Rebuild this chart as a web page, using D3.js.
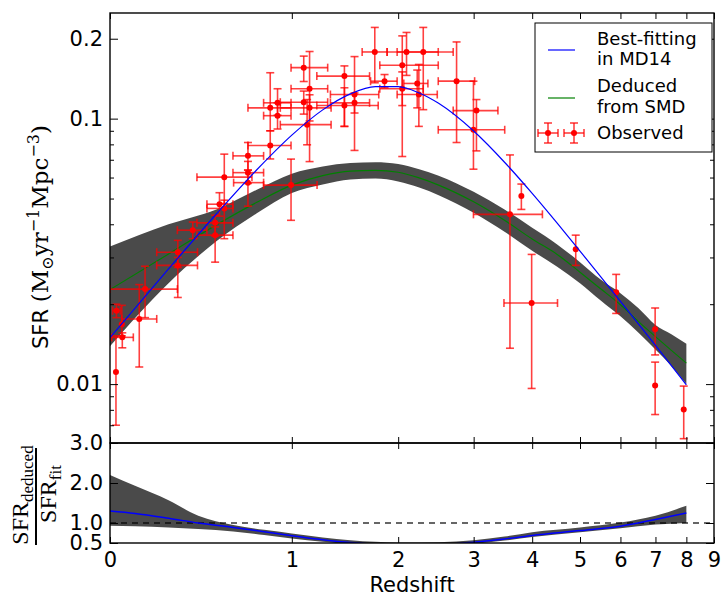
<!DOCTYPE html>
<html><head><meta charset="utf-8">
<script src="https://cdn.jsdelivr.net/npm/d3@7"></script>
<style>body{margin:0;background:#fff}svg{display:block}</style>
</head><body>
<svg id="c" width="722" height="597"></svg>
<script>
// ---------- data ----------
const curveZ   = [0, 0.25, 0.5, 0.75, 1, 1.25, 1.5, 1.75, 2, 2.25, 2.5, 3, 3.5, 4, 4.5, 5, 5.5, 6, 6.5, 7, 7.5, 8];
const bestFit  = [0.01496, 0.02716, 0.04373, 0.06417, 0.08666, 0.1079, 0.1240, 0.1321, 0.1319, 0.1249, 0.1142, 0.0898, 0.0685, 0.0523, 0.0404, 0.0317, 0.0253, 0.0205, 0.01682, 0.01398, 0.01173, 0.00994];
const deduced  = [0.0227, 0.0309, 0.0398, 0.0484, 0.0562, 0.0610, 0.0634, 0.0638, 0.0628, 0.0598, 0.0562, 0.0486, 0.0414, 0.0352, 0.0308, 0.0264, 0.0228, 0.0199, 0.0172, 0.0151, 0.0134, 0.0120];
const bandLo   = [0.0139, 0.0240, 0.0345, 0.0440, 0.0525, 0.0565, 0.0590, 0.0595, 0.0580, 0.0550, 0.0515, 0.0442, 0.0375, 0.0318, 0.0277, 0.0240, 0.0206, 0.0180, 0.0156, 0.0135, 0.0117, 0.0100];
const bandHi   = [0.0330, 0.0400, 0.0455, 0.0540, 0.0620, 0.0660, 0.0680, 0.0685, 0.0675, 0.0645, 0.0610, 0.0530, 0.0455, 0.0388, 0.0336, 0.0288, 0.0247, 0.0220, 0.0193, 0.0167, 0.0154, 0.0142];

const ratioZ   = [0, 0.1, 0.25, 0.4, 0.6, 0.8, 1.0, 1.25, 1.5, 1.75, 2, 2.5, 3, 3.5, 4, 5, 6, 7, 8];
const ratio    = [1.30, 1.24, 1.12, 1.00, 0.89, 0.78, 0.68, 0.58, 0.51, 0.47, 0.45, 0.46, 0.52, 0.60, 0.69, 0.81, 0.92, 1.09, 1.25];
const ratioLo  = [0.93, 0.92, 0.89, 0.85, 0.79, 0.70, 0.61, 0.53, 0.47, 0.43, 0.41, 0.42, 0.48, 0.56, 0.65, 0.77, 0.87, 0.96, 1.00];
const ratioHi  = [2.20, 1.93, 1.57, 1.18, 0.95, 0.83, 0.74, 0.64, 0.57, 0.53, 0.51, 0.52, 0.57, 0.66, 0.77, 0.89, 1.01, 1.18, 1.43];

const obsZ     = [0.023, 0.025, 0.046, 0.048, 0.118, 0.143, 0.295, 0.295, 0.371, 0.493, 0.493, 0.518, 0.546, 0.546, 0.692, 0.692, 0.692, 0.842, 0.842, 0.894, 0.894, 0.994, 1.093, 1.093, 1.12, 1.14, 1.14, 1.444, 1.444, 1.54, 1.54, 1.744, 1.848, 2.047, 2.047, 2.097, 2.226, 2.246, 2.301, 2.748, 3.043, 2.997, 3.798, 3.594, 3.99, 4.903, 5.887, 6.99, 6.99, 7.91];
const obsZlo   = [0.023, 0.010, 0.046, 0.0065, 0.046, 0.0, 0.195, 0.195, 0.293, 0.393, 0.393, 0.447, 0.447, 0.393, 0.598, 0.598, 0.602, 0.692, 0.692, 0.796, 0.796, 0.796, 0.994, 0.914, 0.914, 0.994, 0.914, 1.20, 1.20, 1.317, 1.317, 1.615, 1.70, 1.797, 1.797, 1.876, 2.065, 1.988, 1.988, 2.495, 2.70, 2.495, 3.798, 2.997, 3.49, 4.903, 5.887, 6.99, 6.99, 7.91];
const obsZhi   = [0.023, 0.040, 0.046, 0.093, 0.195, 0.293, 0.396, 0.396, 0.447, 0.598, 0.598, 0.598, 0.598, 0.718, 0.796, 0.796, 0.796, 0.994, 0.994, 0.994, 0.994, 1.202, 1.293, 1.293, 1.323, 1.293, 1.323, 1.69, 1.78, 1.786, 1.69, 1.876, 1.988, 2.495, 2.30, 2.495, 2.36, 2.482, 2.70, 3.015, 3.388, 3.503, 3.798, 4.199, 4.507, 4.903, 5.887, 6.99, 6.99, 7.91];
const obsSfr   = [0.0111, 0.0189, 0.0168, 0.0150, 0.0176, 0.0228, 0.0314, 0.0280, 0.0380, 0.0405, 0.0364, 0.0476, 0.0459, 0.0602, 0.0724, 0.0626, 0.0574, 0.1098, 0.0792, 0.1147, 0.1026, 0.0562, 0.1556, 0.1153, 0.0949, 0.1296, 0.1098, 0.1446, 0.1120, 0.1233, 0.1147, 0.1783, 0.1384, 0.1588, 0.1296, 0.1783, 0.1357, 0.1233, 0.1783, 0.1384, 0.1072, 0.0908, 0.0511, 0.0436, 0.0202, 0.0322, 0.0222, 0.0161, 0.00989, 0.00802];
const obsSfrLo = [0.0070, 0.0178, 0.0152, 0.0137, 0.0116, 0.0178, 0.0275, 0.0212, 0.0353, 0.0361, 0.0288, 0.0429, 0.0353, 0.0479, 0.0640, 0.0570, 0.0468, 0.0900, 0.0705, 0.1030, 0.0914, 0.0414, 0.1380, 0.1040, 0.0797, 0.0689, 0.0980, 0.0935, 0.0935, 0.0759, 0.1050, 0.1365, 0.1307, 0.0720, 0.1120, 0.1455, 0.1098, 0.0935, 0.1081, 0.0813, 0.0756, 0.0645, 0.0455, 0.01365, 0.00963, 0.0280, 0.01846, 0.01288, 0.00768, 0.00623];
const obsSfrHi = [0.0152, 0.0200, 0.0198, 0.0156, 0.0237, 0.0278, 0.0348, 0.0300, 0.0408, 0.0433, 0.0391, 0.0526, 0.0493, 0.0735, 0.0813, 0.0690, 0.0640, 0.1489, 0.0900, 0.1296, 0.1147, 0.0704, 0.1720, 0.1270, 0.1180, 0.1790, 0.1230, 0.1580, 0.1307, 0.1713, 0.1250, 0.2206, 0.1466, 0.2050, 0.1500, 0.2112, 0.1524, 0.1600, 0.2206, 0.1945, 0.1180, 0.1384, 0.0567, 0.0730, 0.0308, 0.0364, 0.0259, 0.01935, 0.0121, 0.00983];

const xTicks      = [0, 1, 2, 3, 4, 5, 6, 7, 8, 9];
const yTopMajor   = [0.01, 0.1, 0.2];
const yTopLabels  = ["0.01", "0.1", "0.2"];
const yTopMinor   = [0.006, 0.007, 0.008, 0.009, 0.02, 0.03, 0.04, 0.05, 0.06, 0.07, 0.08, 0.09];
const yBotTicks   = [0.5, 1.0, 2.0, 3.0];
const yBotLabels  = ["0.5", "1.0", "2.0", "3.0"];
const legendNames = [["Best-fitting", "in MD14"], ["Deduced", "from SMD"], ["Observed"]];

// ---------- layout ----------
const L = 110, R = 714, T = 13, M = 443, B = 543;
const svg = d3.select("#c");
const SANS = "DejaVu Sans", SERIF = "DejaVu Serif";

const x = d3.scaleLog().domain([1, 10]).range([L, R]);
const X = z => x(1 + z);
const yTop = d3.scaleLog().domain([0.006, 0.25]).range([M, T]);
const yBot = d3.scaleLinear().domain([0.5, 3.0]).range([B, M]);

const defs = svg.append("defs");
defs.append("clipPath").attr("id", "clipTop").append("rect").attr("x", L).attr("y", T).attr("width", R - L).attr("height", M - T);
defs.append("clipPath").attr("id", "clipBot").append("rect").attr("x", L).attr("y", M).attr("width", R - L).attr("height", B - M);

const BAND = "#4a4a4a";

// ---------- top panel ----------
const gTop = svg.append("g").attr("clip-path", "url(#clipTop)");
const topRows = curveZ.map((z, i) => ({z, fit: bestFit[i], ded: deduced[i], lo: bandLo[i], hi: bandHi[i]}));

gTop.append("path").datum(topRows)
  .attr("d", d3.area().x(d => X(d.z)).y0(d => yTop(d.lo)).y1(d => yTop(d.hi)).curve(d3.curveMonotoneX))
  .attr("fill", BAND).attr("stroke", "none");

gTop.append("path").datum(topRows)
  .attr("d", d3.line().x(d => X(d.z)).y(d => yTop(d.ded)).curve(d3.curveMonotoneX))
  .attr("fill", "none").attr("stroke", "#008000").attr("stroke-width", 1.2);

// observed error bars
const obs = obsZ.map((z, i) => ({z, zl: obsZlo[i], zh: obsZhi[i], v: obsSfr[i], vl: obsSfrLo[i], vh: obsSfrHi[i]}));
const eb = gTop.append("g").attr("stroke", "#ff0000").attr("stroke-opacity", 0.75).attr("stroke-width", 1.6).attr("fill", "none");
const CAP = 4;
obs.forEach(d => {
  const cx = X(d.z), cy = yTop(d.v);
  eb.append("line").attr("x1", cx).attr("x2", cx).attr("y1", yTop(d.vl)).attr("y2", yTop(d.vh));
  eb.append("line").attr("x1", cx - CAP).attr("x2", cx + CAP).attr("y1", yTop(d.vl)).attr("y2", yTop(d.vl));
  eb.append("line").attr("x1", cx - CAP).attr("x2", cx + CAP).attr("y1", yTop(d.vh)).attr("y2", yTop(d.vh));
  if (d.zh > d.zl) {
    const x0 = X(d.zl), x1 = X(d.zh);
    eb.append("line").attr("x1", x0).attr("x2", x1).attr("y1", cy).attr("y2", cy);
    eb.append("line").attr("x1", x0).attr("x2", x0).attr("y1", cy - CAP).attr("y2", cy + CAP);
    eb.append("line").attr("x1", x1).attr("x2", x1).attr("y1", cy - CAP).attr("y2", cy + CAP);
  }
});
gTop.append("g").selectAll("circle").data(obs).join("circle")
  .attr("cx", d => X(d.z)).attr("cy", d => yTop(d.v)).attr("r", 3).attr("fill", "#ff0000");

gTop.append("path").datum(topRows)
  .attr("d", d3.line().x(d => X(d.z)).y(d => yTop(d.fit)).curve(d3.curveMonotoneX))
  .attr("fill", "none").attr("stroke", "#0000ff").attr("stroke-width", 1.2);

// ---------- bottom panel ----------
const gBot = svg.append("g").attr("clip-path", "url(#clipBot)");
const botRows = ratioZ.map((z, i) => ({z, r: ratio[i], lo: ratioLo[i], hi: ratioHi[i]}));
gBot.append("path").datum(botRows)
  .attr("d", d3.area().x(d => X(d.z)).y0(d => yBot(d.lo)).y1(d => yBot(d.hi)).curve(d3.curveMonotoneX))
  .attr("fill", BAND);
gBot.append("line").attr("x1", L).attr("x2", R).attr("y1", yBot(1)).attr("y2", yBot(1))
  .attr("stroke", "#000").attr("stroke-opacity", 0.8).attr("stroke-width", 1.5).attr("stroke-dasharray", "6,5");
gBot.append("path").datum(botRows)
  .attr("d", d3.line().x(d => X(d.z)).y(d => yBot(d.r)).curve(d3.curveMonotoneX))
  .attr("fill", "none").attr("stroke", "#0000ff").attr("stroke-width", 1.5);

// ---------- axes ----------
function styleAxis(g) {
  g.select(".domain").remove();
  g.selectAll(".tick line").attr("stroke", "#000").attr("stroke-width", 1);
  g.selectAll(".tick text").attr("font-family", SANS).attr("font-size", 21).attr("fill", "#000");
}
svg.append("g").attr("transform", `translate(${L},0)`)
  .call(d3.axisLeft(yTop).tickValues(yTopMajor).tickSize(-8).tickPadding(7).tickFormat((d, i) => yTopLabels[i]))
  .call(styleAxis);
svg.append("g").attr("transform", `translate(${L},0)`)
  .call(d3.axisLeft(yTop).tickValues(yTopMinor).tickSize(-4).tickFormat(""))
  .call(styleAxis);
svg.append("g").attr("transform", `translate(${R},0)`)
  .call(d3.axisRight(yTop).tickValues(yTopMajor).tickSize(-8).tickFormat(""))
  .call(styleAxis);
svg.append("g").attr("transform", `translate(${R},0)`)
  .call(d3.axisRight(yTop).tickValues(yTopMinor).tickSize(-4).tickFormat(""))
  .call(styleAxis);
svg.append("g").attr("transform", `translate(${L},0)`)
  .call(d3.axisLeft(yBot).tickValues(yBotTicks).tickSize(-8).tickPadding(7).tickFormat((d, i) => yBotLabels[i]))
  .call(styleAxis);
svg.append("g").attr("transform", `translate(${R},0)`)
  .call(d3.axisRight(yBot).tickValues(yBotTicks).tickSize(-8).tickFormat(""))
  .call(styleAxis);
const xt = xTicks.map(t => 1 + t);
svg.append("g").attr("transform", `translate(0,${T})`)
  .call(d3.axisTop(x).tickValues(xt).tickSize(-6).tickFormat("")).call(styleAxis);
svg.append("g").attr("transform", `translate(0,${M})`)
  .call(d3.axisBottom(x).tickValues(xt).tickSize(-6).tickFormat("")).call(styleAxis);
svg.append("g").attr("transform", `translate(0,${M})`)
  .call(d3.axisTop(x).tickValues(xt).tickSize(-6).tickFormat("")).call(styleAxis);
svg.append("g").attr("transform", `translate(0,${B})`)
  .call(d3.axisBottom(x).tickValues(xt).tickSize(-6).tickPadding(9).tickFormat((d, i) => String(xTicks[i])))
  .call(styleAxis);

svg.append("rect").attr("x", L).attr("y", T).attr("width", R - L).attr("height", M - T)
  .attr("fill", "none").attr("stroke", "#000").attr("stroke-width", 1.4);
svg.append("rect").attr("x", L).attr("y", M).attr("width", R - L).attr("height", B - M)
  .attr("fill", "none").attr("stroke", "#000").attr("stroke-width", 1.4);

// ---------- labels ----------
svg.append("text").attr("x", (L + R) / 2).attr("y", 592).attr("text-anchor", "middle")
  .attr("font-family", SANS).attr("font-size", 21).text("Redshift");

const yl = svg.append("text").attr("transform", "translate(48,237) rotate(-90)")
  .attr("text-anchor", "middle").attr("font-size", 23).attr("font-family", SERIF);
yl.append("tspan").attr("font-family", SANS).attr("font-size", 21).text("SFR ");
yl.append("tspan").text("(M");
yl.append("tspan").attr("font-size", 16).attr("dy", 5).text("⊙");
yl.append("tspan").attr("dy", -5).text("yr");
yl.append("tspan").attr("font-size", 16).attr("dy", -9).text("−1");
yl.append("tspan").attr("dy", 9).text("Mpc");
yl.append("tspan").attr("font-size", 16).attr("dy", -9).text("−3");
yl.append("tspan").attr("dy", 9).text(")");

const LSERIF = "Liberation Serif";
const num = svg.append("text").attr("transform", "translate(28,495) rotate(-90)")
  .attr("text-anchor", "middle").attr("font-family", LSERIF).attr("font-size", 24);
num.append("tspan").text("SFR");
num.append("tspan").attr("font-size", 17).attr("dy", 5).text("deduced");
const den = svg.append("text").attr("transform", "translate(56,494) rotate(-90)")
  .attr("text-anchor", "middle").attr("font-family", LSERIF).attr("font-size", 24);
den.append("tspan").text("SFR");
den.append("tspan").attr("font-size", 17).attr("dy", 5).text("fit");
svg.append("line").attr("x1", 36).attr("x2", 36).attr("y1", 448).attr("y2", 545)
  .attr("stroke", "#000").attr("stroke-width", 2);

// ---------- legend ----------
const lg = svg.append("g");
lg.append("rect").attr("x", 535).attr("y", 23).attr("width", 177).attr("height", 129)
  .attr("fill", "#fff").attr("stroke", "#000").attr("stroke-width", 1);
lg.append("line").attr("x1", 548).attr("x2", 575).attr("y1", 50).attr("y2", 50).attr("stroke", "#0000ff").attr("stroke-width", 1.2);
lg.append("line").attr("x1", 548).attr("x2", 575).attr("y1", 98).attr("y2", 98).attr("stroke", "#008000").attr("stroke-width", 1.2);
[548, 574].forEach(cx => {
  const cy = 133, e = 10;
  const g = lg.append("g").attr("stroke", "#ff0000").attr("stroke-opacity", 0.75).attr("stroke-width", 1.6);
  g.append("line").attr("x1", cx - e).attr("x2", cx + e).attr("y1", cy).attr("y2", cy);
  g.append("line").attr("x1", cx).attr("x2", cx).attr("y1", cy - e).attr("y2", cy + e);
  g.append("line").attr("x1", cx - e).attr("x2", cx - e).attr("y1", cy - CAP).attr("y2", cy + CAP);
  g.append("line").attr("x1", cx + e).attr("x2", cx + e).attr("y1", cy - CAP).attr("y2", cy + CAP);
  g.append("line").attr("x1", cx - CAP).attr("x2", cx + CAP).attr("y1", cy - e).attr("y2", cy - e);
  g.append("line").attr("x1", cx - CAP).attr("x2", cx + CAP).attr("y1", cy + e).attr("y2", cy + e);
  lg.append("circle").attr("cx", cx).attr("cy", cy).attr("r", 3).attr("fill", "#ff0000");
});
const legY = [[45, 65], [92, 113], [139]];
legendNames.forEach((lines, i) => lines.forEach((t, j) => {
  lg.append("text").attr("x", 597).attr("y", legY[i][j]).attr("font-family", SANS).attr("font-size", 18).text(t);
}));
</script>
</body></html>
